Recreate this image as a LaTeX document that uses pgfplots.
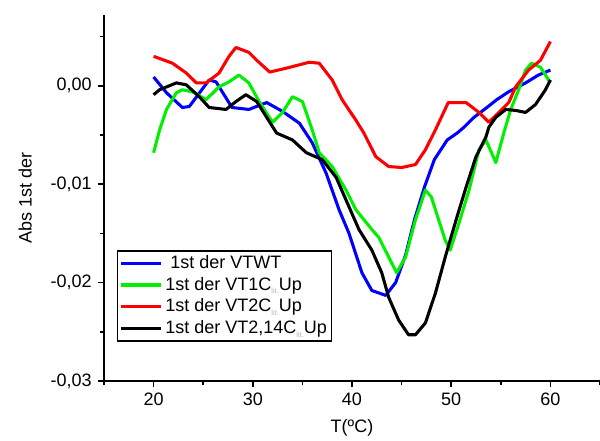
\documentclass[border=0pt]{standalone}
\usepackage{fontspec}
\setmainfont{Liberation Sans}
\usepackage{pgfplots}
\pgfplotsset{compat=1.18}
\definecolor{cblue}{RGB}{0,0,255}
\definecolor{cgreen}{RGB}{0,240,0}
\definecolor{cred}{RGB}{255,0,0}
\newcommand{\sub}{\raisebox{-2.5pt}{\fontsize{5.5}{6}\selectfont\color{gray!55}lit.}}
\begin{document}
\fontsize{13.5}{15.5}\selectfont
\begin{tikzpicture}
\begin{axis}[
 scale only axis, width=372pt, height=274.5pt,
 xmin=15, xmax=65, ymin=-0.03, ymax=0.0072,
 axis x line*=bottom, axis y line*=left,
 axis line style={line width=1.4pt},
 xtick={20,30,40,50,60}, minor xtick={15,25,35,45,55,65},
 ytick={-0.03,-0.02,-0.01,0}, minor ytick={-0.025,-0.015,-0.005,0.005},
 tick align=outside, major tick length=4.5pt, minor tick length=3pt,
 every tick/.style={line width=1.2pt, black},
 scaled y ticks=false,
 yticklabel style={/pgf/number format/.cd, fixed, fixed zerofill, precision=2, use comma},
 /pgf/number format/assume math mode=true,
 xlabel={T(ºC)}, ylabel={Abs 1st der},
 xlabel style={at={(axis description cs:0.5,-0.128)}, anchor=center},
 ylabel style={at={(axis description cs:-0.159,0.5)}, anchor=center},
 legend style={at={(0.026,0.107)}, anchor=south west, draw=black, line width=1.2pt, fill=white, inner sep=1.5pt, row sep=0.5pt},
 legend cell align=left,
 legend image code/.code={\draw[#1] (0pt,0pt) -- (30pt,0pt);},
 every axis plot/.append style={line width=2.3pt, line join=round},
]
\addplot[cblue] coordinates {
(20.0,0.0009)(21.3,-0.0007)(22.9,-0.0022)(23.6,-0.0021)(25.6,0.0006)(26.3,0.0004)(27.9,-0.0022)(29.6,-0.0024)(31.4,-0.0017)(33.0,-0.0026)(34.7,-0.0038)(36.0,-0.0058)(37.4,-0.0089)(38.7,-0.0126)(39.7,-0.0150)(41.0,-0.0190)(42.0,-0.0208)(43.4,-0.0213)(44.4,-0.0200)(45.4,-0.0172)(46.3,-0.0136)(47.3,-0.0103)(48.3,-0.0075)(49.6,-0.0055)(50.6,-0.0048)(51.3,-0.0042)(52.3,-0.0032)(53.6,-0.0022)(54.6,-0.0014)(55.8,-0.0006)(57.5,0.0003)(58.8,0.0011)(60.0,0.0016)};
\addlegendentry{\ 1st der VTWT}
\addplot[cgreen] coordinates {
(20.0,-0.0068)(20.6,-0.0045)(21.3,-0.0024)(22.3,-0.0007)(22.9,-0.0004)(23.9,-0.0006)(25.3,-0.0014)(26.6,-0.0001)(27.6,0.0004)(28.6,0.0011)(29.6,0.0003)(30.7,-0.0017)(32.0,-0.0037)(33.0,-0.0027)(34.0,-0.0011)(35.0,-0.0016)(36.0,-0.0045)(36.7,-0.0068)(38.0,-0.0082)(39.4,-0.0106)(40.4,-0.0126)(42.0,-0.0146)(42.7,-0.0154)(43.7,-0.0174)(44.5,-0.0190)(45.4,-0.0174)(46.4,-0.0136)(47.4,-0.0106)(48.0,-0.0113)(49.4,-0.0157)(49.9,-0.0167)(50.8,-0.0139)(51.8,-0.0106)(52.8,-0.0065)(53.5,-0.0055)(54.5,-0.0078)(55.3,-0.0048)(56.0,-0.0024)(56.8,-0.0004)(57.5,0.0016)(58.1,0.0023)(59.0,0.0019)(60.0,0.0003)};
\addlegendentry{1st der VT1C\sub Up}
\addplot[cred] coordinates {
(20.0,0.0030)(21.9,0.0023)(23.3,0.0013)(24.3,0.0003)(25.3,0.0003)(26.6,0.0013)(27.6,0.0030)(28.3,0.0039)(29.6,0.0034)(30.4,0.0026)(31.7,0.0014)(33.4,0.0018)(35.7,0.0024)(36.7,0.0023)(38.0,0.0006)(39.0,-0.0014)(40.4,-0.0035)(41.2,-0.0048)(42.4,-0.0072)(43.7,-0.0082)(45.0,-0.0083)(46.4,-0.0080)(47.4,-0.0065)(48.4,-0.0045)(49.7,-0.0017)(51.5,-0.0017)(52.8,-0.0027)(53.8,-0.0037)(54.8,-0.0027)(55.8,-0.0017)(56.5,-0.0001)(57.8,0.0016)(59.0,0.0026)(60.0,0.0045)};
\addlegendentry{1st der VT2C\sub Up}
\addplot[black] coordinates {
(20.0,-0.0009)(20.6,-0.0004)(22.3,0.0003)(23.3,0.0001)(24.6,-0.0011)(25.6,-0.0022)(27.3,-0.0024)(28.3,-0.0016)(29.3,-0.0009)(30.4,-0.0016)(31.4,-0.0032)(32.4,-0.0048)(34.0,-0.0055)(35.4,-0.0068)(37.0,-0.0075)(38.4,-0.0093)(39.7,-0.0123)(40.7,-0.0146)(42.0,-0.0167)(43.0,-0.0190)(43.7,-0.0215)(44.7,-0.0238)(45.7,-0.0253)(46.4,-0.0253)(47.4,-0.0241)(48.4,-0.0211)(49.4,-0.0174)(50.5,-0.0136)(51.5,-0.0103)(52.5,-0.0072)(53.5,-0.0052)(53.8,-0.0042)(54.5,-0.0032)(55.5,-0.0024)(56.5,-0.0025)(57.5,-0.0027)(58.5,-0.0019)(59.5,-0.0004)(60.0,0.0006)};
\addlegendentry{1st der VT2,14C\sub Up}
\end{axis}
\pgfresetboundingbox
\path[use as bounding box] (current axis.south west) ++(-78pt,-44.25pt) rectangle ++(450pt,330pt);
\end{tikzpicture}
\end{document}
